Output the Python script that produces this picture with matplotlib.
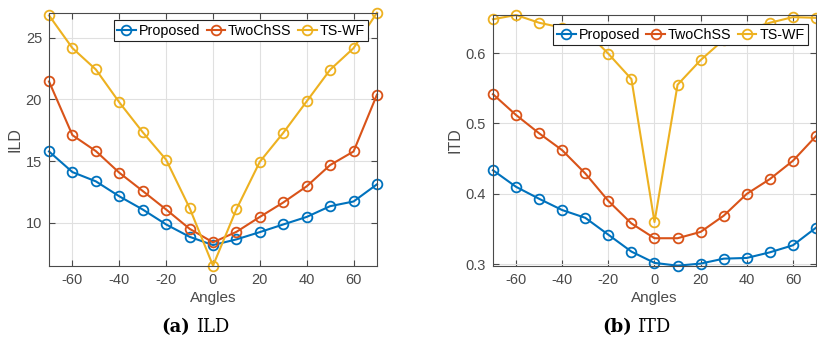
import matplotlib
matplotlib.use('Agg')
import matplotlib.pyplot as plt

# Angulos (graus)
angles = [-70, -60, -50, -40, -30, -20, -10, 0, 10, 20, 30, 40, 50, 60, 70]

# ILD
ild_proposed = [15.78, 14.11, 13.36, 12.15, 11.08, 9.87, 8.87, 8.20, 8.66, 9.25, 9.87, 10.48, 11.35, 11.73, 13.12]
ild_twochss = [21.45, 17.10, 15.81, 14.06, 12.58, 11.08, 9.52, 8.42, 9.27, 10.48, 11.65, 12.96, 14.68, 15.78, 20.38]
ild_tswf = [26.80, 24.15, 22.42, 19.76, 17.34, 15.11, 11.21, 6.53, 11.10, 14.95, 17.29, 19.84, 22.40, 24.15, 27.02]

# ITD
itd_proposed = [0.4335, 0.410, 0.393, 0.377, 0.366, 0.342, 0.318, 0.302, 0.298, 0.301, 0.308, 0.309, 0.317, 0.327, 0.352]
itd_twochss = [0.5415, 0.512, 0.486, 0.462, 0.429, 0.390, 0.358, 0.337, 0.337, 0.346, 0.369, 0.400, 0.421, 0.447, 0.482]
itd_tswf = [0.648, 0.654, 0.643, 0.636, 0.632, 0.599, 0.563, 0.360, 0.555, 0.590, 0.619, 0.633, 0.643, 0.651, 0.650]

labels = ['Proposed', 'TwoChSS', 'TS-WF']
cores = ['#0072BD', '#D95319', '#EDB120']

plt.rcParams['font.family'] = ['Liberation Sans', 'DejaVu Sans']
plt.rcParams['axes.unicode_minus'] = False
cinza = '#4a4a4a'

fig = plt.figure(figsize=(8.17, 3.49), dpi=100)
ax1 = fig.add_axes([0.060, 0.2387, 0.4014, 0.7249])
ax2 = fig.add_axes([0.6034, 0.2387, 0.3954, 0.7183])


def desenhar(ax, series, ylabel, yticks, yfmt, ancora):
    for ys, lab, cor in zip(series, labels, cores):
        ax.plot(angles, ys, color=cor, linewidth=1.5, marker='o', markersize=7,
                markerfacecolor='none', markeredgewidth=1.3, label=lab, clip_on=False)
    todos = [v for s in series for v in s]
    ax.set_xlim(-70, 70)
    ax.set_ylim(min(todos), max(todos))
    ax.set_xticks([-60, -40, -20, 0, 20, 40, 60])
    ax.set_yticks(yticks)
    ax.set_yticklabels([yfmt % v for v in yticks])
    ax.grid(True, color='#e0e0e0', linewidth=0.8)
    ax.set_axisbelow(True)
    ax.tick_params(direction='in', top=True, right=True, length=4, width=0.8,
                   labelsize=10.5, colors=cinza, labelcolor=cinza, pad=5)
    for sp in ax.spines.values():
        sp.set_color(cinza)
        sp.set_linewidth(0.8)
    ax.set_xlabel('Angles', fontsize=11, color=cinza, labelpad=3)
    ax.set_ylabel(ylabel, fontsize=11.5, color=cinza, labelpad=2)
    leg = ax.legend(ncol=3, loc='upper right', bbox_to_anchor=ancora, fontsize=10.3,
                    frameon=True, fancybox=False, handlelength=1.3, handletextpad=0.2,
                    columnspacing=0.45, borderpad=0.25, borderaxespad=0.0)
    leg.get_frame().set_edgecolor('#222222')
    leg.get_frame().set_linewidth(0.8)
    leg.get_frame().set_alpha(1.0)


desenhar(ax1, [ild_proposed, ild_twochss, ild_tswf], 'ILD', [10, 15, 20, 25], '%d', (0.973, 0.971))
desenhar(ax2, [itd_proposed, itd_twochss, itd_tswf], 'ITD', [0.3, 0.4, 0.5, 0.6], '%.1f', (0.975, 0.964))

# Legendas das figuras
fig.text(0.233, 0.063, '(a)', ha='right', va='center', fontsize=13, fontweight='bold', family='DejaVu Serif')
fig.text(0.240, 0.063, 'ILD', ha='left', va='center', fontsize=13, family='DejaVu Serif')
fig.text(0.773, 0.063, '(b)', ha='right', va='center', fontsize=13, fontweight='bold', family='DejaVu Serif')
fig.text(0.780, 0.063, 'ITD', ha='left', va='center', fontsize=13, family='DejaVu Serif')

fig.savefig('out.png', dpi=100)
